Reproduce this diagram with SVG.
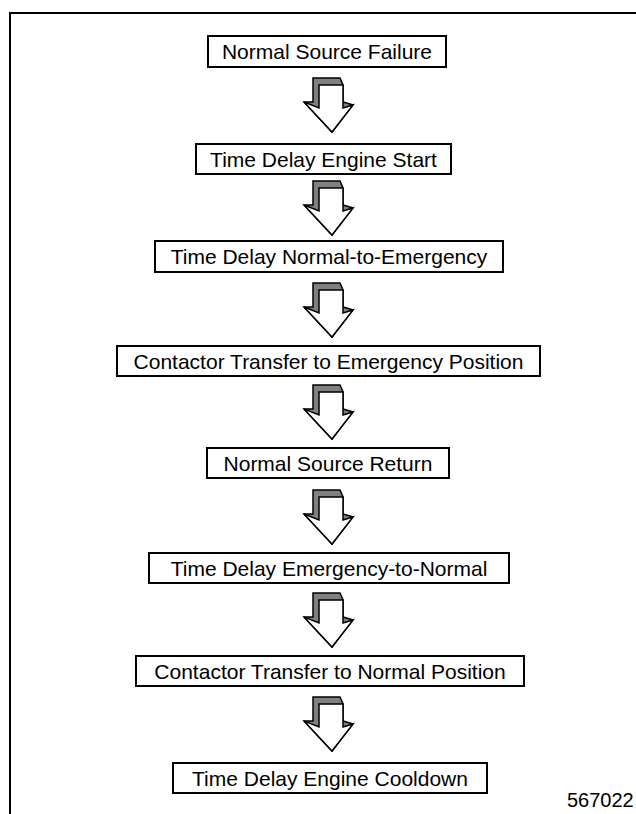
<svg xmlns="http://www.w3.org/2000/svg" width="636" height="814" viewBox="0 0 636 814">
<style>
.box{fill:#fff;stroke:#000;stroke-width:2}
.lbl{font-family:"Liberation Sans",Arial,sans-serif;font-size:21px;fill:#000;text-anchor:middle}
.back{fill:#808080;stroke:#000;stroke-width:1.5;stroke-linejoin:miter}
.front{fill:#fff;stroke:#000;stroke-width:1.5;stroke-linejoin:miter}
</style>
<defs>
<g id="arr">
<polygon class="back" points="0,0 27,0 30,7 30,24 40,27 19,54 -9,24 0,24"/>
<polygon class="front" points="6,7 30,7 30,30 40,27 19,54 -9,24 6,30"/>
</g>
</defs>
<rect width="636" height="814" fill="#fff"/>
<path d="M10,820 V13 H640" fill="none" stroke="#000" stroke-width="2"/>
<g id="connectors">
<use href="#arr" x="313" y="78"/>
<use href="#arr" x="313" y="181"/>
<use href="#arr" x="313" y="283"/>
<use href="#arr" x="313" y="385"/>
<use href="#arr" x="313" y="490"/>
<use href="#arr" x="313" y="593"/>
<use href="#arr" x="313" y="697"/>
</g>
<g id="n1"><rect class="box" x="208" y="36" width="238" height="31"/><text class="lbl" x="327" y="59">Normal Source Failure</text></g>
<g id="n2"><rect class="box" x="196" y="144" width="255" height="30"/><text class="lbl" x="323.5" y="166.5">Time Delay Engine Start</text></g>
<g id="n3"><rect class="box" x="155" y="241" width="348" height="31"/><text class="lbl" x="329" y="264">Time Delay Normal-to-Emergency</text></g>
<g id="n4"><rect class="box" x="117" y="346" width="423" height="30"/><text class="lbl" x="328.5" y="368.5">Contactor Transfer to Emergency Position</text></g>
<g id="n5"><rect class="box" x="207" y="448" width="242" height="30"/><text class="lbl" x="328" y="470.5">Normal Source Return</text></g>
<g id="n6"><rect class="box" x="149" y="553" width="360" height="30"/><text class="lbl" x="329" y="575.5">Time Delay Emergency-to-Normal</text></g>
<g id="n7"><rect class="box" x="136" y="656" width="388" height="30"/><text class="lbl" x="330" y="678.5">Contactor Transfer to Normal Position</text></g>
<g id="n8"><rect class="box" x="173" y="763" width="314" height="30"/><text class="lbl" x="330" y="785.5">Time Delay Engine Cooldown</text></g>
<text x="567" y="807" font-family="Liberation Sans,Arial,sans-serif" font-size="20">567022</text>
</svg>
